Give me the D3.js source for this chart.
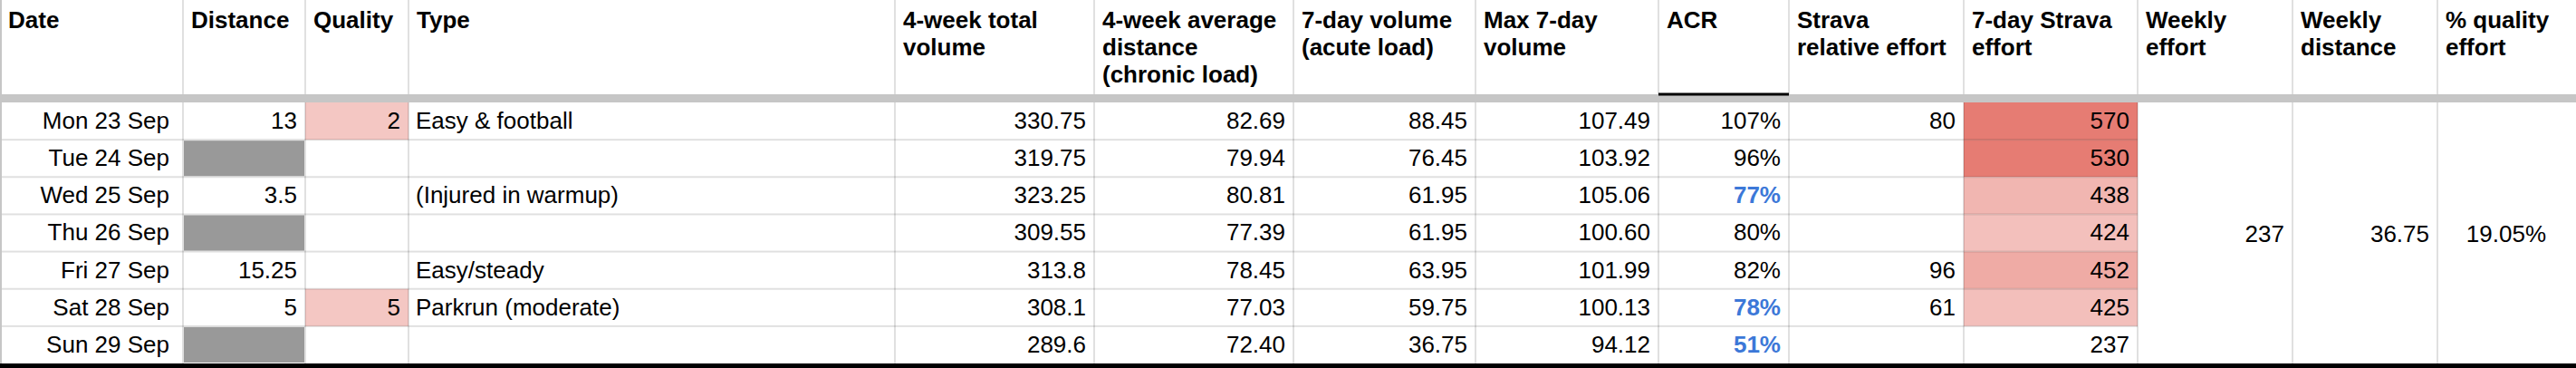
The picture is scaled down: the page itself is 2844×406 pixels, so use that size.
<!DOCTYPE html>
<html lang="en">
<head>
  <meta charset="UTF-8">
  <title>Training log</title>
  <style>
    body { margin: 0; background: #fff; }
    svg { display: block; font-family: "Liberation Sans", Arial, sans-serif; }
    .head { font-size: 26px; font-weight: bold; fill: #000; }
    .cell { font-size: 26px; fill: #000; }
    .low { fill: #3c78d8; font-weight: bold; }
  </style>
</head>
<body>
<div id="sheet"></div>
<script src="https://cdn.jsdelivr.net/npm/d3@7"></script>
<script>
// data
let dates = ['Mon 23 Sep', 'Tue 24 Sep', 'Wed 25 Sep', 'Thu 26 Sep', 'Fri 27 Sep', 'Sat 28 Sep', 'Sun 29 Sep']
let distance = [13, null, 3.5, null, 15.25, 5, null]
let quality = [2, null, null, null, null, 5, null]
let runType = ['Easy & football', '', '(Injured in warmup)', '', 'Easy/steady', 'Parkrun (moderate)', '']
let total4wk = [330.75, 319.75, 323.25, 309.55, 313.8, 308.1, 289.6]
let avg4wk = [82.69, 79.94, 80.81, 77.39, 78.45, 77.03, 72.40]
let vol7 = [88.45, 76.45, 61.95, 61.95, 63.95, 59.75, 36.75]
let max7 = [107.49, 103.92, 105.06, 100.60, 101.99, 100.13, 94.12]
let acr = [1.07, 0.96, 0.77, 0.80, 0.82, 0.78, 0.51]
let stravaRel = [80, null, null, null, 96, 61, null]
let strava7 = [570, 530, 438, 424, 452, 425, 237]
let weeklyEffort = 237
let weeklyDistance = 36.75
let qualityShare = 0.1905

let headers = [
  ['Date'], ['Distance'], ['Quality'], ['Type'],
  ['4-week total', 'volume'], ['4-week average', 'distance', '(chronic load)'],
  ['7-day volume', '(acute load)'], ['Max 7-day', 'volume'], ['ACR'],
  ['Strava', 'relative effort'], ['7-day Strava', 'effort'],
  ['Weekly', 'effort'], ['Weekly', 'distance'], ['% quality', 'effort']
]

let width = 2844
let height = 406
let colWidths = [202, 135, 114, 537, 220, 220, 201, 202, 144, 193, 192, 171, 160, 129]
let colX = [0].concat(Array.from(d3.cumsum(colWidths)))
let headH = 104
let bodyTop = 113
let bodyBottom = 401

let svg = d3.select('#sheet').append('svg').attr('width', width).attr('height', height)
svg.append('rect').attr('width', width).attr('height', height).attr('fill', '#fff')

// rows
let y = d3.scaleBand().domain(dates).range([bodyTop, bodyBottom])
let rowH = y.bandwidth()

// conditional colour for 7-day strava effort
let effortColor = d3.scaleLinear().domain([340, 515]).range(['#ffffff', '#e67c73']).clamp(true)

let fills = svg.append('g')
dates.forEach((d, i) => {
  if (quality[i] != null) {
    fills.append('rect').attr('x', colX[2]).attr('y', y(d)).attr('width', colWidths[2]).attr('height', rowH).attr('fill', '#f4c7c3')
  }
  fills.append('rect').attr('x', colX[10]).attr('y', y(d)).attr('width', colWidths[10]).attr('height', rowH).attr('fill', effortColor(strava7[i]))
})

// header separator
svg.append('rect').attr('x', 0).attr('y', headH).attr('width', width).attr('height', bodyTop - headH).attr('fill', '#c6c6c6')

// grid lines
let grid = svg.append('g').attr('fill', 'rgba(0,0,0,0.12)')
colX.slice(1, 14).forEach(x => {
  grid.append('rect').attr('x', x - 1).attr('y', 0).attr('width', 2).attr('height', headH)
  grid.append('rect').attr('x', x - 1).attr('y', bodyTop).attr('width', 2).attr('height', bodyBottom - bodyTop)
})
dates.slice(1).forEach(d => {
  grid.append('rect').attr('x', 0).attr('y', y(d) - 1).attr('width', colX[11]).attr('height', 2)
})

// rest days
dates.forEach((d, i) => {
  if (distance[i] == null) {
    svg.append('rect').attr('x', colX[1] + 1).attr('y', y(d) + 1).attr('width', colWidths[1] - 2).attr('height', rowH - 2).attr('fill', '#999999')
  }
})

svg.append('rect').attr('x', 0).attr('y', 0).attr('width', 2).attr('height', bodyBottom).attr('fill', '#c6c6c6')
svg.append('rect').attr('x', colX[8]).attr('y', headH - 1.5).attr('width', colWidths[8]).attr('height', 3).attr('fill', '#000')
svg.append('rect').attr('x', 0).attr('y', bodyBottom).attr('width', width).attr('height', height - bodyBottom).attr('fill', '#000')

// header text
headers.forEach((lines, c) => {
  let t = svg.append('text').attr('class', 'head')
  lines.forEach((line, k) => {
    t.append('tspan').attr('x', colX[c] + 9).attr('y', 31 + k * 30).text(line)
  })
})

// body text
let f2 = d3.format('.2f')
let pct = d3.format('.0%')
let columns = [
  { values: dates, fmt: v => v, pad: 15 },
  { values: distance, fmt: v => String(v) },
  { values: quality, fmt: v => String(v) },
  { values: runType, fmt: v => v, left: true },
  { values: total4wk, fmt: v => String(v) },
  { values: avg4wk, fmt: f2 },
  { values: vol7, fmt: f2 },
  { values: max7, fmt: f2 },
  { values: acr, fmt: pct, cls: v => v < 0.8 ? 'cell low' : 'cell' },
  { values: stravaRel, fmt: v => String(v) },
  { values: strava7, fmt: v => String(v) }
]
columns.forEach((col, c) => {
  col.values.forEach((v, i) => {
    if (v == null || v === '') return
    svg.append('text')
      .attr('class', col.cls ? col.cls(v) : 'cell')
      .attr('x', col.left ? colX[c] + 8 : colX[c + 1] - (col.pad || 9))
      .attr('y', y(dates[i]) + 29)
      .attr('text-anchor', col.left ? 'start' : 'end')
      .text(col.fmt(v))
  })
})

// merged weekly cells
let mid = (bodyTop + bodyBottom) / 2 + 10
let weekly = [String(weeklyEffort), String(weeklyDistance), d3.format('.2%')(qualityShare)]
weekly.forEach((v, k) => {
  svg.append('text').attr('class', 'cell')
    .attr('x', colX[12 + k] - 9).attr('y', mid)
    .attr('text-anchor', 'end').text(v)
})
</script>
</body>
</html>
